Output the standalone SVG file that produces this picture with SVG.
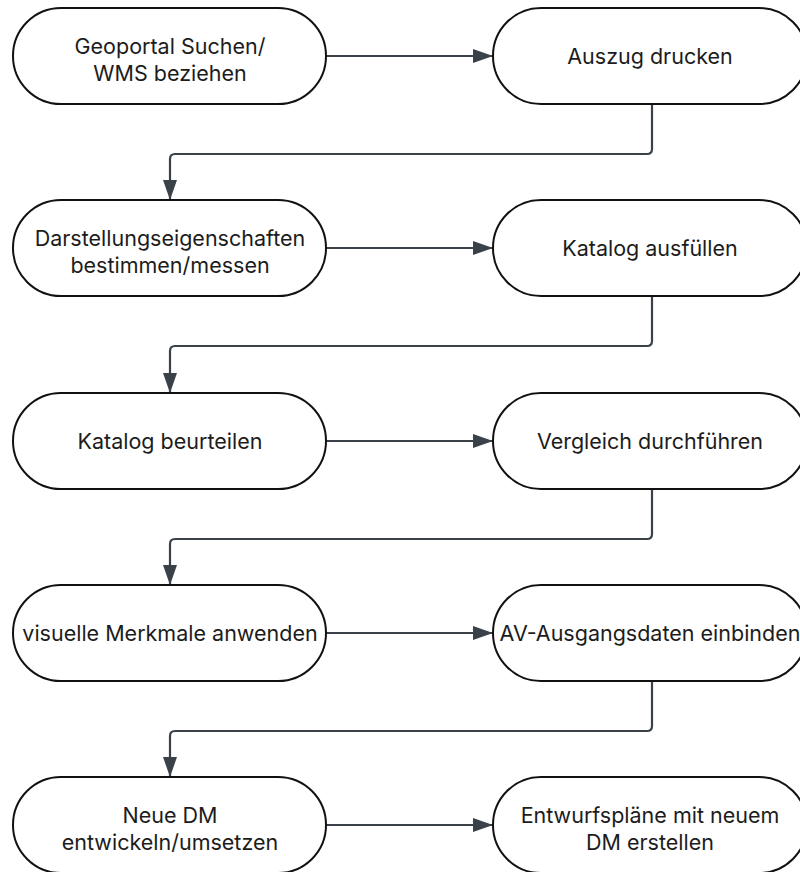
<svg xmlns="http://www.w3.org/2000/svg" width="800" height="872" viewBox="0 0 800 872">
<defs>
<style>
.node rect{fill:#fff;stroke:#111;stroke-width:2}
.node text{font-family:Inter,"Liberation Sans",sans-serif;font-size:21.5px;fill:#1c1c1c;text-anchor:middle}
.conn path{fill:none;stroke:#3b4149;stroke-width:2.2;marker-end:url(#ah)}
</style>
<marker id="ah" viewBox="0 0 20 14" refX="20" refY="7" markerWidth="20" markerHeight="14" markerUnits="userSpaceOnUse" orient="auto">
<path d="M0,0 L20,7 L0,14 Z" fill="#3b4149"/>
</marker>
</defs>
<rect width="800" height="872" fill="#fff"/>
<g id="connectors" class="conn">
<path d="M326,56 H493"/>
<path d="M652,104 V149 Q652,154 647,154 H175 Q170,154 170,159 V200"/>
<path d="M326,248 H493"/>
<path d="M652,296 V341 Q652,346 647,346 H175 Q170,346 170,351 V393"/>
<path d="M326,441 H493"/>
<path d="M652,489 V534 Q652,539 647,539 H175 Q170,539 170,544 V585"/>
<path d="M326,633 H493"/>
<path d="M652,681 V726 Q652,731 647,731 H175 Q170,731 170,736 V777"/>
<path d="M326,825 H493"/>
</g>
<g id="n1" class="node"><rect x="13" y="8" width="313" height="96" rx="48"/><text x="170" y="54">Geoportal Suchen/</text><text x="170" y="81">WMS beziehen</text></g>
<g id="n2" class="node"><rect x="493" y="8" width="314" height="96" rx="48"/><text x="650" y="64">Auszug drucken</text></g>
<g id="n3" class="node"><rect x="13" y="200" width="313" height="96" rx="48"/><text x="170" y="246">Darstellungseigenschaften</text><text x="170" y="273">bestimmen/messen</text></g>
<g id="n4" class="node"><rect x="493" y="200" width="314" height="96" rx="48"/><text x="650" y="256">Katalog ausfüllen</text></g>
<g id="n5" class="node"><rect x="13" y="393" width="313" height="96" rx="48"/><text x="170" y="449">Katalog beurteilen</text></g>
<g id="n6" class="node"><rect x="493" y="393" width="314" height="96" rx="48"/><text x="650" y="449">Vergleich durchführen</text></g>
<g id="n7" class="node"><rect x="13" y="585" width="313" height="96" rx="48"/><text x="170" y="641">visuelle Merkmale anwenden</text></g>
<g id="n8" class="node"><rect x="493" y="585" width="314" height="96" rx="48"/><text x="650" y="641">AV-Ausgangsdaten einbinden</text></g>
<g id="n9" class="node"><rect x="13" y="777" width="313" height="96" rx="48"/><text x="170" y="823">Neue DM</text><text x="170" y="850">entwickeln/umsetzen</text></g>
<g id="n10" class="node"><rect x="493" y="777" width="314" height="96" rx="48"/><text x="650" y="823">Entwurfspläne mit neuem</text><text x="650" y="850">DM erstellen</text></g>
</svg>
